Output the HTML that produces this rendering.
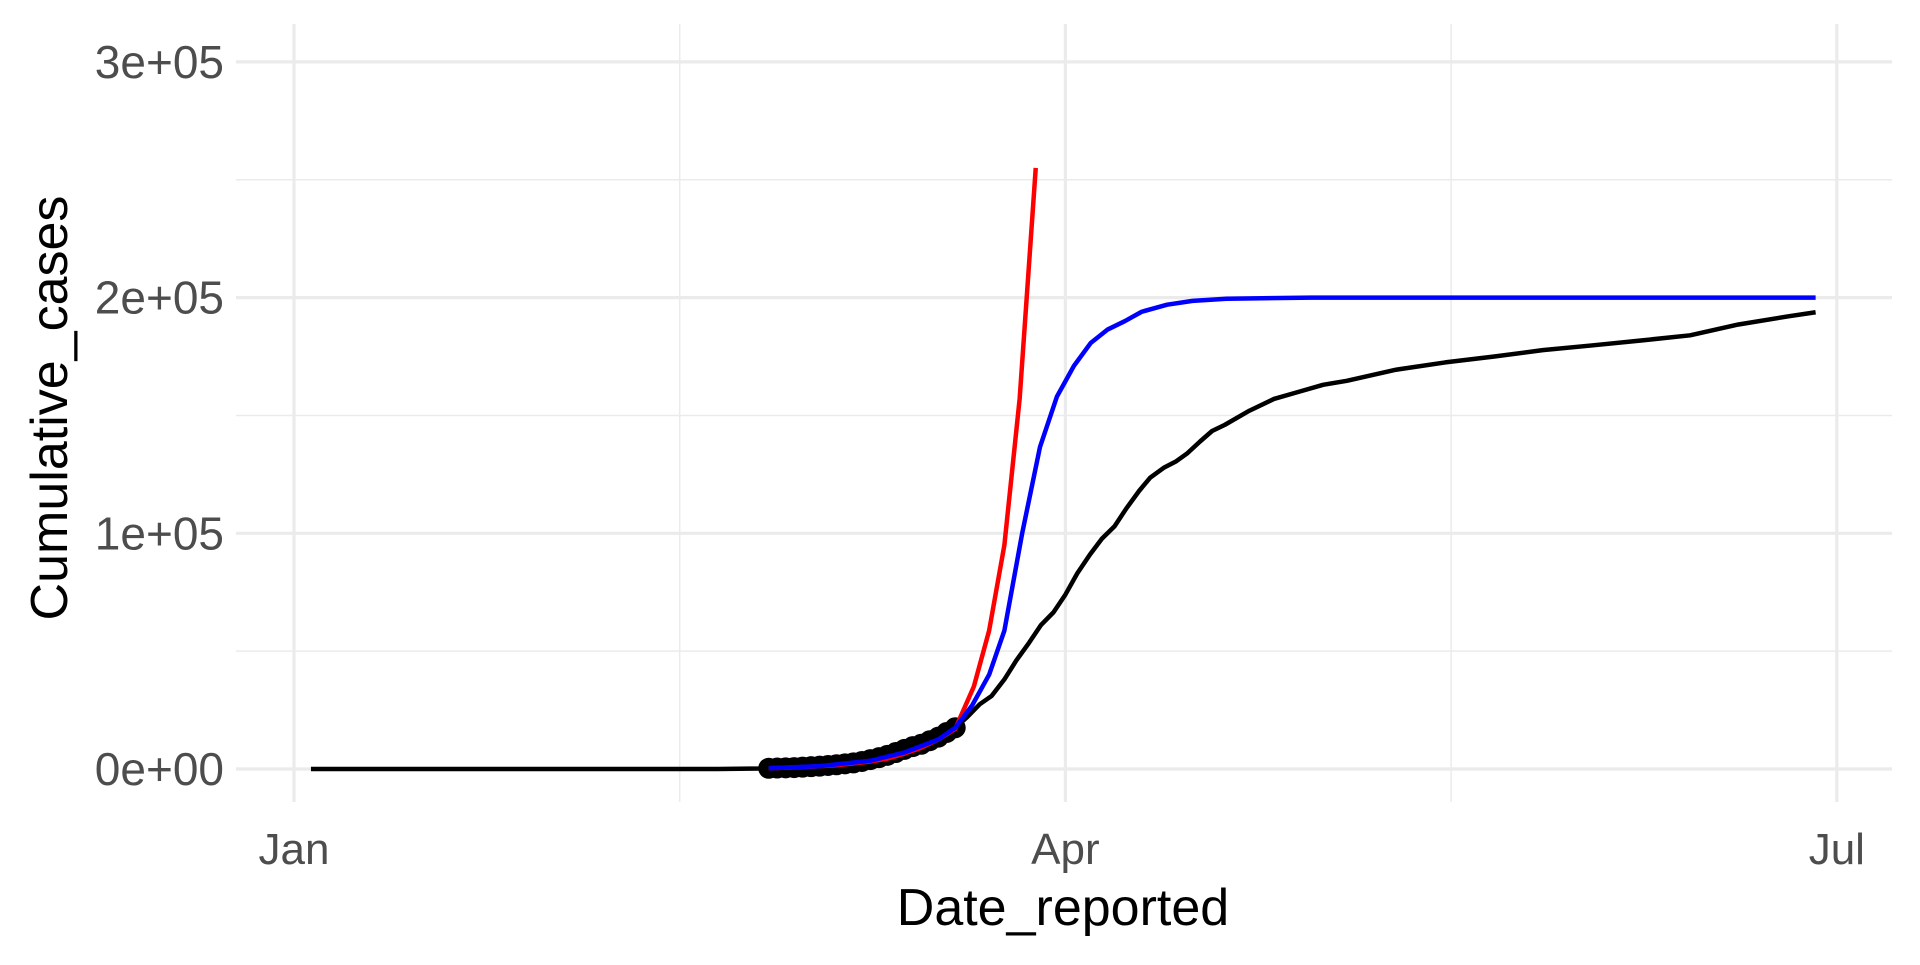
<!DOCTYPE html>
<html><head><meta charset="utf-8"><style>
body{margin:0;background:#fff}
svg text{font-family:"Liberation Sans",sans-serif}
</style></head><body>
<svg id="chart" width="1920" height="960" viewBox="0 0 1920 960" xmlns="http://www.w3.org/2000/svg">
<g id="grid"></g>
<g id="series"></g>
<g id="axes"></g>
<text x="0" y="0" transform="translate(67,408) rotate(-90)" text-anchor="middle" font-size="52" fill="#000">Cumulative_cases</text>
<text x="1063" y="925" text-anchor="middle" font-size="52" fill="#000">Date_reported</text>
</svg>
<script>
// days since Jan 1
const obsDays = [2,10,20,30,40,50,55,60,63,66,69,72,75,78,79.4,80.9,82.3,83.8,85.2,86.7,88.1,89.6,91,92.4,93.9,95.3,96.8,98.2,99.7,101,102.6,104,105.4,106.9,108.3,109.8,112.7,115.6,118.5,121.4,124.2,130,135.8,141.6,147.3,153.1,158.9,164.7,170.4,176.2,179.5];
const obsValues = [0,0,0,0,0,0,200,800,1500,2600,4800,8300,12000,17500,22000,27500,31000,38000,46000,53500,61000,66500,74000,83000,91000,97700,103000,110600,118000,123600,127800,130400,134000,139000,143400,146000,152000,157000,160000,163000,164700,169400,172500,175000,177700,179700,181800,184000,188600,192000,193800];
const dotDays = [56,57,58,59,60,61,62,63,64,65,66,67,68,69,70,71,72,73,74,75,76,77,78];
const dotValues = [300,400,500,600,800,1000,1200,1500,1800,2200,2600,3200,4000,4800,5800,7000,8300,9500,10500,12000,13500,15500,17500];
const expDays = [56,60,64,68,70,72,74,76,78,80.2,82,83.8,85.6,87.5];
const expValues = [300,800,1600,3200,4400,6500,9000,12500,17000,35000,58700,95000,157000,255000];
const logDays = [56,62,68,72,76,78,80,82,83.8,85.9,88,90,92,94,96,98,100,103,106,110,120,140,179.5];
const logValues = [300,1200,3500,7000,12500,17500,27000,40000,58700,100000,136600,158000,171000,180800,186500,190000,194000,197000,198600,199500,200000,200000,200000];
const yTicks = [0,100000,200000,300000];
const yTickLabels = ["0e+00","1e+05","2e+05","3e+05"];
const yMinor = [50000,150000,250000];
const xTicks = [0,91,182];
const xTickLabels = ["Jan","Apr","Jul"];
const xMinor = [45.5,136.5];

const NS="http://www.w3.org/2000/svg";
const X = d => 294 + d*8.477;
const Y = v => 769 - v/100000*235.7;
function mk(tag, attrs, parent){const e=document.createElementNS(NS,tag);for(const k in attrs)e.setAttribute(k,attrs[k]);parent.appendChild(e);return e;}
const grid=document.getElementById('grid'), series=document.getElementById('series'), axes=document.getElementById('axes');
yMinor.forEach(v=>{const l=mk('line',{x1:236,x2:1892,y1:Y(v),y2:Y(v),stroke:'#ebebeb','stroke-width':1.5},grid);

});
xMinor.forEach(d=>{const l=mk('line',{x1:X(d),x2:X(d),y1:24,y2:802,stroke:'#ebebeb','stroke-width':1.5},grid);

});
yTicks.forEach((v,i)=>{const l=mk('line',{x1:236,x2:1892,y1:Y(v),y2:Y(v),stroke:'#ebebeb','stroke-width':3.2},grid);


const t=mk('text',{x:224,y:Y(v)+16,'text-anchor':'end','font-size':46,fill:'#4d4d4d'},axes);t.textContent=yTickLabels[i];

});
xTicks.forEach((d,i)=>{const l=mk('line',{x1:X(d),x2:X(d),y1:24,y2:802,stroke:'#ebebeb','stroke-width':3.2},grid);


const t=mk('text',{x:X(d),y:864,'text-anchor':'middle','font-size':44,fill:'#4d4d4d'},axes);t.textContent=xTickLabels[i];

});
function path(ds,vs,color,w,name){const p=mk('polyline',{points:ds.map((d,i)=>X(d)+','+Y(vs[i])).join(' '),fill:'none',stroke:color,'stroke-width':w,'stroke-linejoin':'round','stroke-linecap':'butt'},series);

}
path(obsDays,obsValues,'#000',4.5,'observed-cases-line');
dotDays.forEach((d,i)=>{const c=mk('circle',{cx:X(d),cy:Y(dotValues[i]),r:10.5,fill:'#000'},series);

});
path(expDays,expValues,'#ff0000',4.5,'exponential-fit-line');
path(logDays,logValues,'#0000ff',4.5,'logistic-fit-line');
</script>
</body></html>
